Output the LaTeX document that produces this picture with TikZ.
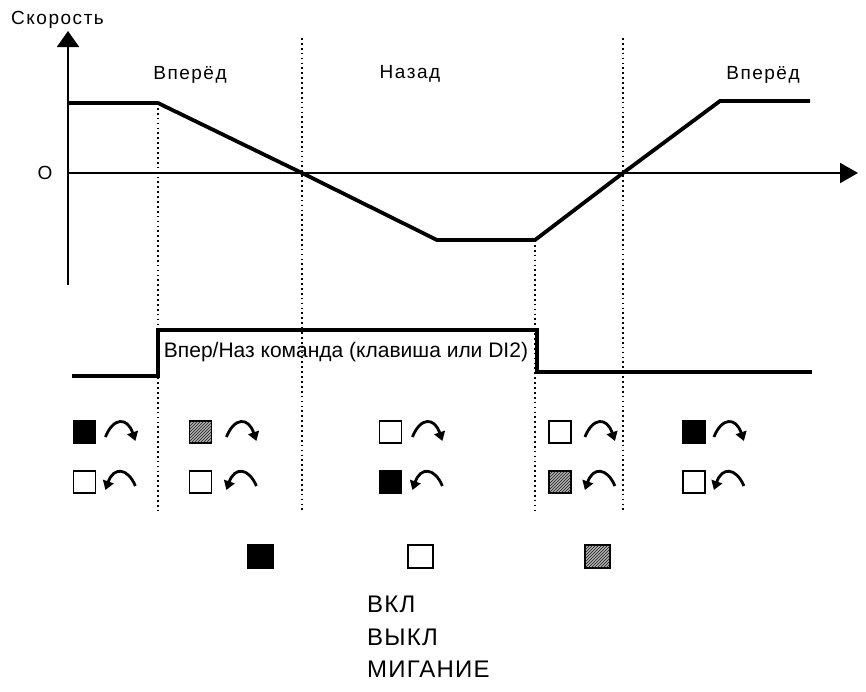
\documentclass[tikz,border=0pt]{standalone}
\usepackage{fontspec}
\setmainfont{Liberation Sans}
\usetikzlibrary{arrows.meta,patterns}
\tikzset{
  axisline/.style={line width=2pt},
  curve/.style={line width=3.8pt, line join=miter},
  guide/.style={line width=1.7pt, dash pattern=on 1.7pt off 3.2pt},
  lbl/.style={font=\fontsize{19}{22}\selectfont\addfontfeature{LetterSpace=8}, inner sep=0pt},
  cmdlbl/.style={font=\fontsize{21}{24}\selectfont, inner sep=0pt},
  leglbl/.style={font=\fontsize{24}{28}\selectfont\addfontfeature{LetterSpace=5}, inner sep=0pt, anchor=west},
  ind/.style={draw=black, line width=1.8pt, minimum size=22pt, inner sep=0pt},
  ledon/.style={ind, fill=black},
  ledoff/.style={ind, fill=white},
  ledblink/.style={ind, fill=gray!60, postaction={pattern=north east lines, pattern color=black!90}},
  legbox/.style={draw=black, line width=1.2pt, minimum width=25pt, minimum height=23pt, inner sep=0pt},
  rot/.style={line width=2.8pt, -{Triangle[length=9pt,width=11pt]}},
  cwarc/.pic={\draw[rot] (0,5) .. controls (8,-15) and (22,-15) .. (30,9);},
  ccwarc/.pic={\draw[rot] (30,4) .. controls (22,-15) and (8,-15) .. (0,8);}
}
\begin{document}
\begin{tikzpicture}[x=1pt,y=-1pt]
\useasboundingbox (0,0) rectangle (866,691);
% axes
\coordinate (o) at (68,173);
\coordinate (ytop) at (68,31);
\coordinate (ybot) at (68,285);
\coordinate (xend) at (858,173);
\draw[axisline, -{Triangle[length=16pt,width=22pt]}] (ybot) -- (ytop);
\draw[axisline, -{Triangle[length=18pt,width=20pt]}] (o) -- (xend);
% labels
\node[lbl, anchor=west] (speed) at (11,20) {Скорость};
\node[lbl] (zero) at (45,173) {O};
\node[lbl] (fwd1) at (190,75) {Вперёд};
\node[lbl] (back) at (410,74) {Назад};
\node[lbl] (fwd2) at (763,75) {Вперёд};
% speed profile
\coordinate (s0) at (68,103);
\coordinate (s1) at (158,103);
\coordinate (s2) at (302,173);
\coordinate (s3) at (437,240);
\coordinate (s4) at (535,240);
\coordinate (s5) at (623,173);
\coordinate (s6) at (720,101);
\coordinate (s7) at (810,101);
\draw[curve] (s0) -- (s1) -- (s2) -- (s3) -- (s4) -- (s5) -- (s6) -- (s7);
% dotted guides
\coordinate (g1b) at (158,512);
\coordinate (g2t) at (302,38);
\coordinate (g2b) at (302,512);
\coordinate (g3b) at (535,512);
\coordinate (g4t) at (623,38);
\coordinate (g4b) at (623,512);
\draw[guide] (s1) -- (g1b);
\draw[guide] (g2t) -- (g2b);
\draw[guide] (s4) -- (g3b);
\draw[guide] (g4t) -- (g4b);
% command signal
\coordinate (c0) at (72,376);
\coordinate (c1) at (158,376);
\coordinate (c2) at (158,330);
\coordinate (c3) at (537,330);
\coordinate (c4) at (537,372);
\coordinate (c5) at (812,372);
\draw[curve] (c0) -- (c1) -- (c2) -- (c3) -- (c4) -- (c5);
\node[cmdlbl] (cmd) at (346,352) {Впер/Наз команда (клавиша или DI2)};
% indicators row 1
\node[ledon]    (a1) at (84.5,432) {};
\node[ledblink] (a2) at (200.5,432) {};
\node[ledoff]   (a3) at (390.5,432) {};
\node[ledoff]   (a4) at (560,432) {};
\node[ledon]    (a5) at (694,432) {};
% indicators row 2
\node[ledoff]   (b1) at (84.5,482) {};
\node[ledoff]   (b2) at (200.5,482) {};
\node[ledon]    (b3) at (390.5,482) {};
\node[ledblink] (b4) at (560,482) {};
\node[ledoff]   (b5) at (694,482) {};
% rotation arrows
\pic at ([xshift=9pt]a1.east) {cwarc};
\pic at ([xshift=14pt]a2.east) {cwarc};
\pic at ([xshift=10pt]a3.east) {cwarc};
\pic at ([xshift=13pt]a4.east) {cwarc};
\pic at ([xshift=8pt]a5.east) {cwarc};
\pic at ([xshift=9pt]b1.east) {ccwarc};
\pic at ([xshift=14pt]b2.east) {ccwarc};
\pic at ([xshift=10pt]b3.east) {ccwarc};
\pic at ([xshift=13pt]b4.east) {ccwarc};
\pic at ([xshift=8pt]b5.east) {ccwarc};
% legend
\node[legbox, fill=black] (lon) at (260.5,556.5) {};
\node[legbox, fill=white] (loff) at (420.5,556.5) {};
\node[legbox, fill=gray!60, postaction={pattern=north east lines, pattern color=black!90}] (lblink) at (597.5,556.5) {};
\node[leglbl] (ton) at (367,604) {ВКЛ};
\node[leglbl] (toff) at (367,637) {ВЫКЛ};
\node[leglbl] (tblink) at (367,669) {МИГАНИЕ};
\end{tikzpicture}
\end{document}
